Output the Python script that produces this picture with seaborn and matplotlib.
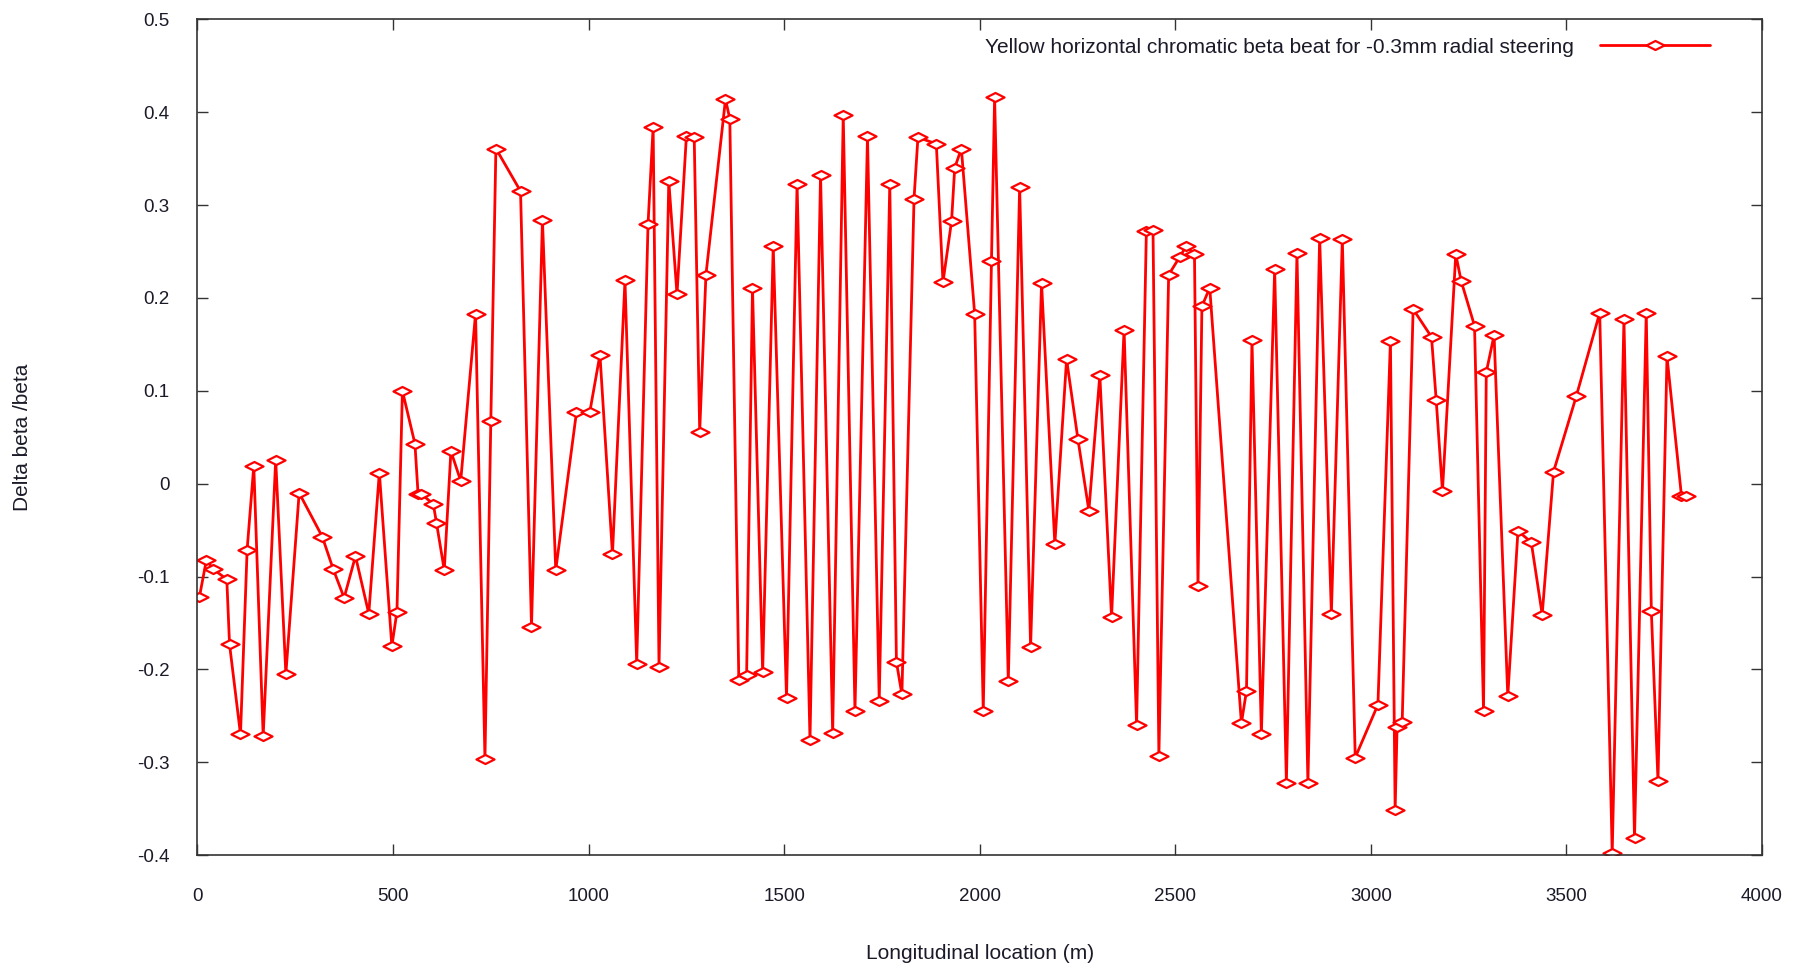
import numpy as np
import pandas as pd
import matplotlib
matplotlib.use("Agg")
import matplotlib.pyplot as plt
import seaborn as sns
from matplotlib.path import Path

location_m = [
    5, 23, 40, 75, 82, 110, 127, 144, 168, 200, 226, 260, 319, 347, 375, 404, 438, 465,
    497, 510, 524, 556, 564, 572, 603, 611, 631, 648, 673, 711, 735, 750, 763, 826, 854,
    882, 916, 969, 1003, 1029, 1061, 1093, 1123, 1152, 1165, 1180, 1205, 1226, 1250,
    1270, 1284, 1300, 1350, 1361, 1384, 1404, 1419, 1445, 1472, 1506, 1533, 1566, 1593,
    1624, 1651, 1681, 1713, 1743, 1770, 1787, 1801, 1832, 1842, 1889, 1906, 1928, 1936,
    1953, 1987, 2009, 2030, 2038, 2073, 2102, 2130, 2158, 2192, 2222, 2251, 2279, 2307,
    2337, 2369, 2401, 2426, 2443, 2458, 2483, 2511, 2528, 2549, 2558, 2568, 2588, 2669,
    2682, 2696, 2720, 2754, 2784, 2811, 2839, 2869, 2899, 2927, 2960, 3018, 3050, 3062,
    3067, 3080, 3108, 3155, 3167, 3183, 3217, 3231, 3265, 3288, 3295, 3315, 3350, 3376,
    3410, 3438, 3467, 3525, 3585, 3617, 3647, 3674, 3704, 3717, 3734, 3757, 3794, 3806,
]
beta_beat = [
    -0.122, -0.082, -0.092, -0.103, -0.173, -0.270, -0.071, 0.019, -0.272, 0.026, -0.205,
    -0.010, -0.057, -0.092, -0.123, -0.078, -0.140, 0.012, -0.175, -0.138, 0.100, 0.043,
    -0.011, -0.011, -0.022, -0.042, -0.093, 0.035, 0.003, 0.183, -0.297, 0.067, 0.361,
    0.315, -0.154, 0.284, -0.093, 0.077, 0.077, 0.139, -0.076, 0.219, -0.194, 0.280,
    0.384, -0.197, 0.326, 0.204, 0.374, 0.373, 0.056, 0.225, 0.414, 0.393, -0.211,
    -0.206, 0.211, -0.203, 0.256, -0.231, 0.323, -0.276, 0.333, -0.269, 0.397, -0.245,
    0.374, -0.234, 0.323, -0.192, -0.227, 0.307, 0.373, 0.366, 0.217, 0.283, 0.340,
    0.361, 0.183, -0.245, 0.240, 0.416, -0.213, 0.320, -0.176, 0.216, -0.065, 0.134,
    0.048, -0.029, 0.117, -0.144, 0.166, -0.260, 0.272, 0.273, -0.293, 0.225, 0.244,
    0.256, 0.247, -0.110, 0.191, 0.211, -0.258, -0.223, 0.155, -0.270, 0.231, -0.322,
    0.248, -0.322, 0.265, -0.140, 0.263, -0.295, -0.238, 0.154, -0.352, -0.262, -0.257,
    0.188, 0.158, 0.090, -0.008, 0.247, 0.218, 0.170, -0.245, 0.120, 0.160, -0.229,
    -0.051, -0.063, -0.141, 0.013, 0.094, 0.184, -0.398, 0.177, -0.382, 0.184, -0.137,
    -0.320, 0.137, -0.013, -0.013,
]
series_label = "Yellow horizontal chromatic beta beat for -0.3mm radial steering"
x_ticks = [0, 500, 1000, 1500, 2000, 2500, 3000, 3500, 4000]
y_ticks = [-0.4, -0.3, -0.2, -0.1, 0, 0.1, 0.2, 0.3, 0.4, 0.5]
y_tick_labels = ["-0.4", "-0.3", "-0.2", "-0.1", "0", "0.1", "0.2", "0.3", "0.4", "0.5"]

df = pd.DataFrame({"x": location_m, "y": beta_beat})

sns.set_theme(style="white")
plt.rcParams["font.family"] = ["Liberation Sans", "DejaVu Sans"]

fig = plt.figure(figsize=(18, 9.68), dpi=100)
ax = fig.add_axes([0.1097, 0.1167, 0.8692, 0.8632])

wide_diamond = Path([(-1, 0), (0, 0.5), (1, 0), (0, -0.5), (-1, 0)],
                    [Path.MOVETO, Path.LINETO, Path.LINETO, Path.LINETO, Path.CLOSEPOLY])

sns.lineplot(data=df, x="x", y="y", ax=ax, estimator=None, sort=False,
             color="#ff0000", linewidth=2.0, marker=wide_diamond, markersize=13,
             markerfacecolor="white", markeredgecolor="#ff0000", markeredgewidth=1.6,
             label=series_label)

ax.set_xlim(0, 4000)
ax.set_ylim(-0.4, 0.5)
ax.set_xticks(x_ticks)
ax.set_xticklabels([str(t) for t in x_ticks])
ax.set_yticks(y_ticks)
ax.set_yticklabels(y_tick_labels)

text_color = "#1a1a28"
ax.tick_params(axis="both", which="major", direction="in", length=8, width=1,
               top=True, right=True, bottom=True, left=True,
               labelsize=13.5, colors="#333333", labelcolor=text_color)
ax.tick_params(axis="x", pad=24)
ax.tick_params(axis="y", pad=20)

for s in ax.spines.values():
    s.set_visible(True)
    s.set_color("#333333")
    s.set_linewidth(1.2)

ax.set_xlabel("Longitudinal location (m)", fontsize=15, color=text_color, labelpad=28)
ax.set_ylabel("Delta beta /beta", fontsize=15, color=text_color, labelpad=76)

leg = ax.legend(loc="center right", bbox_to_anchor=(0.967, 0.967), frameon=False,
                fontsize=15, handlelength=5.3, numpoints=1, borderaxespad=0,
                borderpad=0, labelcolor=text_color, markerfirst=False,
                handletextpad=1.27)

fig.savefig("out.png", dpi=100, facecolor="white")
